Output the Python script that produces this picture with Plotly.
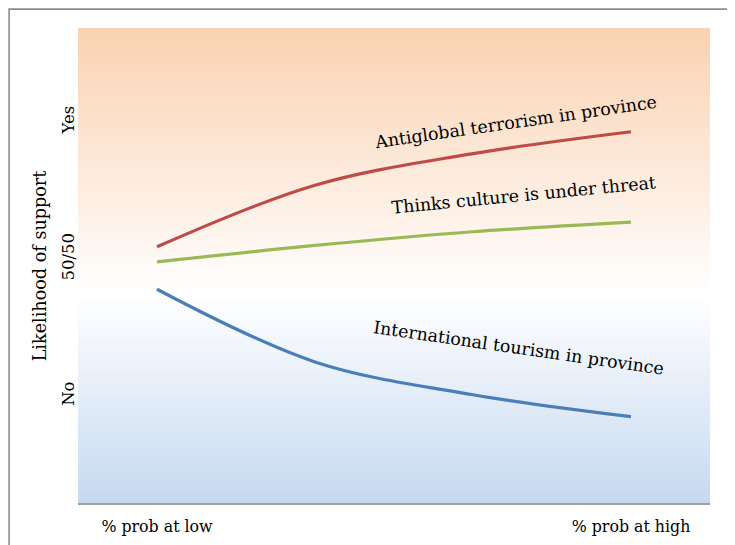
import plotly.graph_objects as go

# ---- data ----
steps = [0, 1, 2, 3]
x_tick_vals = [0, 3]
x_tick_text = ["% prob at low", "% prob at high"]
y_tick_vals = [-1, 0, 1]
y_tick_text = ["No", "50/50", "Yes"]

antiglobal = [0.09, 0.54, 0.77, 0.93]
culture = [-0.02, 0.10, 0.20, 0.27]
tourism = [-0.22, -0.75, -0.99, -1.15]

series_names = ["Antiglobal terrorism in province",
                "Thinks culture is under threat",
                "International tourism in province"]
series_values = [antiglobal, culture, tourism]
series_colors = ["#BE4B48", "#98B954", "#4A7EBB"]

FONT = "DejaVu Serif"

fig = go.Figure()
for name, vals, col in zip(series_names, series_values, series_colors):
    fig.add_trace(go.Scatter(x=steps, y=vals, mode="lines", name=name,
                             line=dict(color=col, width=3.2, shape="spline", smoothing=1.0),
                             showlegend=False, hoverinfo="skip"))

# background gradient (top peach -> white -> bottom light blue)
top = (250, 210, 177)
mid = (255, 255, 255)
bot = (198, 217, 241)
mid_pos = 0.44  # from bottom
n = 160
shapes = []
for i in range(n):
    f = (i + 0.5) / n
    if f < mid_pos:
        t = f / mid_pos
        c = [bot[k] + (mid[k] - bot[k]) * t for k in range(3)]
    else:
        t = (f - mid_pos) / (1 - mid_pos)
        c = [mid[k] + (top[k] - mid[k]) * t for k in range(3)]
    shapes.append(dict(type="rect", xref="paper", yref="paper",
                       x0=0, x1=1, y0=i / n, y1=(i + 1) / n + 0.002,
                       fillcolor="rgb(%d,%d,%d)" % tuple(round(v) for v in c),
                       line=dict(width=0), layer="below"))

# outer frame (top and left edges visible)
shapes.append(dict(type="path", xref="paper", yref="paper",
                   path="M -0.109,-0.2 L -0.109,1.042 L 1.2,1.042",
                   line=dict(color="#8C8C8C", width=1.6)))

annotations = [
    dict(x=2.27, y=1.00, text=series_names[0], textangle=-8.2),
    dict(x=2.32, y=0.47, text=series_names[1], textangle=-5.5),
    dict(x=2.29, y=-0.65, text=series_names[2], textangle=8.2),
]
for a in annotations:
    a.update(xref="x", yref="y", showarrow=False,
             font=dict(family=FONT, size=17.4, color="black"))

fig.update_layout(
    width=727, height=537,
    margin=dict(l=70, r=25, t=21, b=42),
    paper_bgcolor="white", plot_bgcolor="white",
    shapes=shapes, annotations=annotations,
    font=dict(family=FONT, color="black"),
    xaxis=dict(range=[-0.5, 3.5], tickvals=x_tick_vals, ticktext=x_tick_text,
               showgrid=False, zeroline=False, showline=True, automargin=False,
               linecolor="#A0A0A0", linewidth=2,
               ticks="outside", ticklen=8, tickcolor="rgba(0,0,0,0)",
               tickfont=dict(family=FONT, size=15.8, color="black")),
    yaxis=dict(range=[-1.78, 1.68], tickvals=y_tick_vals, ticktext=y_tick_text,
               tickangle=-90, showgrid=False, zeroline=False, showline=False,
               automargin=False,
               ticks="", tickfont=dict(family=FONT, size=16.5, color="black"),
               title=dict(text="Likelihood of support", standoff=7,
                          font=dict(family=FONT, size=17.6, color="black"))),
)

fig.write_html("out.html")
